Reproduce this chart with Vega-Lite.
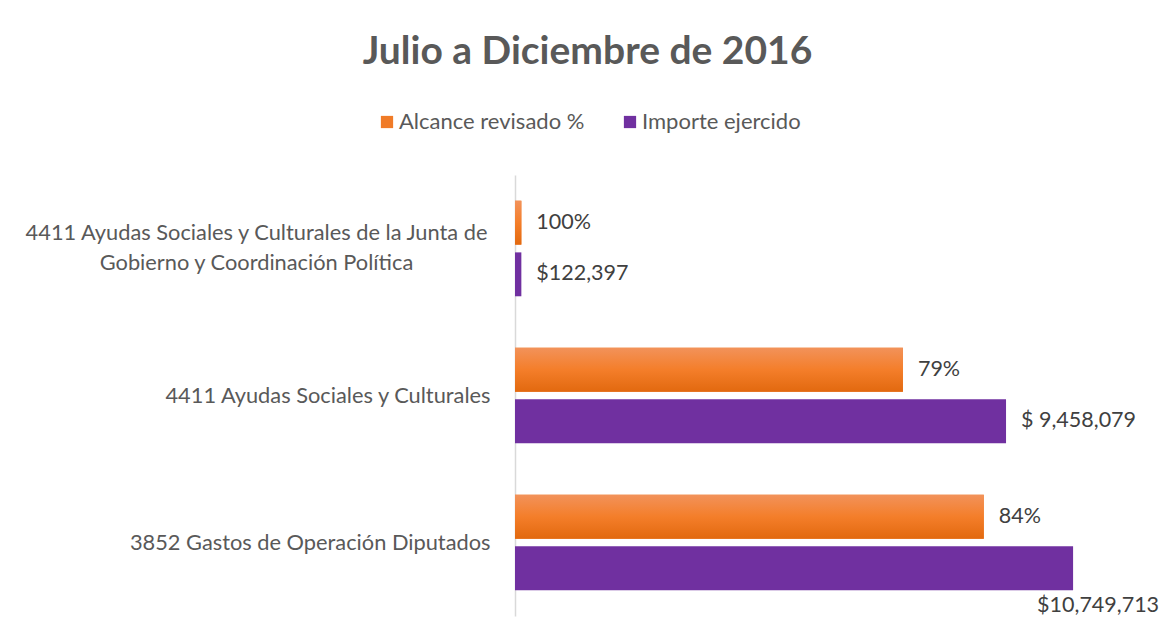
{
  "$schema": "https://vega.github.io/schema/vega-lite/v6.json",
  "width": 623,
  "height": 441,
  "autosize": "none",
  "padding": {"left": 515, "top": 175, "right": 25, "bottom": 24},
  "background": "white",
  "config": {"view": {"stroke": null}},
  "title": {
    "text": "Julio a Diciembre de 2016",
    "font": "Lato",
    "fontSize": 39,
    "fontWeight": "bold",
    "color": "#595959",
    "anchor": "middle",
    "dx": -239,
    "baseline": "alphabetic",
    "offset": 8
  },
  "data": {
    "values": [
      {"cat": "4411 Ayudas Sociales y Culturales de la Junta de Gobierno y Coordinación Política", "serie": "Alcance revisado %", "valor": 122397, "etiqueta": "100%"},
      {"cat": "4411 Ayudas Sociales y Culturales de la Junta de Gobierno y Coordinación Política", "serie": "Importe ejercido", "valor": 122397, "etiqueta": "$122,397"},
      {"cat": "4411 Ayudas Sociales y Culturales", "serie": "Alcance revisado %", "valor": 7471882, "etiqueta": "79%"},
      {"cat": "4411 Ayudas Sociales y Culturales", "serie": "Importe ejercido", "valor": 9458079, "etiqueta": "$ 9,458,079"},
      {"cat": "3852 Gastos de Operación Diputados", "serie": "Alcance revisado %", "valor": 9029759, "etiqueta": "84%"},
      {"cat": "3852 Gastos de Operación Diputados", "serie": "Importe ejercido", "valor": 10749713, "etiqueta": "$10,749,713"}
    ]
  },
  "encoding": {
    "y": {
      "field": "cat",
      "type": "nominal",
      "sort": null,
      "title": null,
      "scale": {"paddingInner": 0.35, "paddingOuter": 0.175},
      "axis": {
        "domainColor": "#D9D9D9",
        "domainWidth": 1.5,
        "ticks": false,
        "labelFont": "Lato",
        "labelFontSize": 21.8,
        "labelColor": "#595959",
        "labelLimit": 700,
        "labelLineHeight": 30,
        "labelExpr": "indexof(datum.value, 'Junta') >= 0 ? ['4411 Ayudas Sociales y Culturales de la Junta de', 'Gobierno y Coordinación Política'] : datum.value",
        "labelAlign": {"condition": {"test": "indexof(datum.value, 'Junta') >= 0", "value": "center"}, "value": "right"},
        "labelPadding": {"condition": {"test": "indexof(datum.value, 'Junta') >= 0", "value": 259}, "value": 25},
        "labelOffset": {"condition": {"test": "indexof(datum.value, 'Junta') >= 0", "value": -16}, "value": 0}
      }
    },
    "yOffset": {
      "field": "serie",
      "type": "nominal",
      "sort": ["Alcance revisado %", "Importe ejercido"],
      "scale": {"paddingInner": 0.15}
    },
    "x": {
      "field": "valor",
      "type": "quantitative",
      "scale": {"domain": [0, 12000000]},
      "axis": null
    }
  },
  "layer": [
    {
      "mark": {"type": "bar"},
      "encoding": {
        "color": {
          "field": "serie",
          "type": "nominal",
          "scale": {"domain": ["Alcance revisado %", "Importe ejercido"], "range": ["#F07B27", "#7030A0"]},
          "legend": {
            "title": null,
            "orient": "none",
            "direction": "horizontal",
            "legendX": -139,
            "legendY": -64,
            "symbolType": "square",
            "symbolSize": 150,
            "symbolStrokeWidth": 0,
            "labelFont": "Lato",
            "labelFontSize": 22,
            "labelColor": "#595959",
            "labelOffset": 1,
            "labelLimit": 400,
            "columnPadding": 34
          }
        }
      }
    },
    {
      "transform": [{"filter": "datum.serie == 'Alcance revisado %'"}],
      "mark": {
        "type": "bar",
        "fill": {
          "gradient": "linear",
          "x1": 0, "y1": 0, "x2": 0, "y2": 1,
          "stops": [
            {"offset": 0, "color": "#F2925A"},
            {"offset": 0.5, "color": "#F47E2A"},
            {"offset": 1, "color": "#E2690F"}
          ]
        }
      }
    },
    {
      "transform": [{"filter": "datum.valor < 10000000"}],
      "mark": {"type": "text", "align": "left", "baseline": "middle", "dx": 15, "font": "Lato", "fontSize": 21.5, "color": "#404040"},
      "encoding": {"text": {"field": "etiqueta"}}
    },
    {
      "transform": [{"filter": "datum.valor >= 10000000"}],
      "mark": {"type": "text", "align": "left", "baseline": "middle", "dx": -36, "dy": 38, "font": "Lato", "fontSize": 21.5, "color": "#404040"},
      "encoding": {"text": {"field": "etiqueta"}}
    }
  ]
}
